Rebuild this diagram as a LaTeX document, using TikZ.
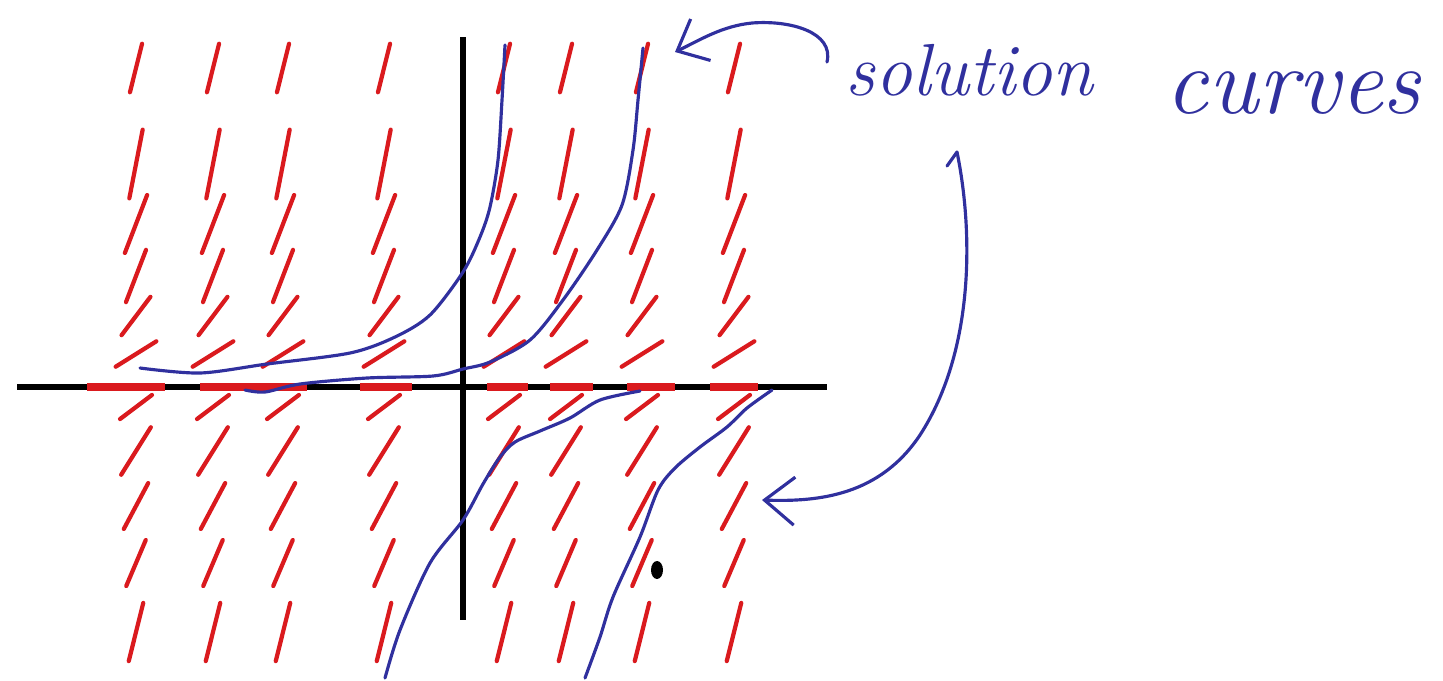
\documentclass[tikz,border=0pt]{standalone}
\usetikzlibrary{arrows.meta}
\definecolor{penred}{RGB}{218,26,30}
\definecolor{penblue}{RGB}{48,48,158}
\begin{document}
\begin{tikzpicture}[x=0.1mm, y=-0.1mm,
  slope/.style={penred, line width=1.2pt, line cap=round},
  flat/.style={penred, line width=2.4pt},
  axis/.style={black, line width=1.7pt},
  pen/.style={penblue, line width=0.9pt, line cap=round, line join=round},
  hand/.style={penblue, inner sep=0pt, anchor=base west}]
  \useasboundingbox (0,0) rectangle (1443,680);
  % 坐标轴
  \draw[axis] (17,387) -- (827,387);
  \draw[axis] (463,37) -- (463,620);
  % 斜率场 (行: y/角度/半长)
  \foreach \yc/\a/\h in {68/76/25, 164/79/35, 224/69/31, 276/69/28, 316/53/24, 354/32/24,
                         407/37/20, 451/58/28, 506/62/26, 563/67/25, 632/76/30} {
    \foreach \xc in {136,213,283,384,504,566,642,734}
      \draw[slope] (\xc,\yc) +(180-\a:\h) -- +(-\a:\h);}
  % y=0 上的水平线段
  \foreach \xa/\xb in {87/165, 200/262, 258/307, 360/412, 487/528, 550/593, 627/675, 710/758}
    \draw[flat] (\xa,387) -- (\xb,387);
  % 解曲线
  \draw[pen] plot[smooth] coordinates {(140,368) (200,373) (267,364) (350,353) (395,337)
    (430,315) (463,272) (480,237) (490,207) (498,160) (502,100) (505,45)};
  \draw[pen] plot[smooth] coordinates {(245,390) (265,392) (300,384) (367,378) (433,376)
    (463,369) (490,362) (530,340) (563,300) (597,250) (622,205) (633,150) (638,100) (643,48)};
  \draw[pen] plot[smooth] coordinates {(385,678) (400,630) (430,563) (463,520) (483,484)
    (500,457) (515,442) (540,431) (570,418) (600,400) (640,391)};
  \draw[pen] plot[smooth] coordinates {(585,678) (600,637) (613,597) (640,537) (658,490)
    (675,468) (700,447) (727,427) (747,408) (772,390)};
  \fill (657,570) ellipse [x radius=0.6mm, y radius=0.9mm];
  % 标注
  \node[hand, font=\fontsize{21}{25}\selectfont\itshape] (sol) at (845,95) {solution};
  \node[hand, font=\fontsize{27}{31}\selectfont\itshape] (cur) at (1165,113) {curves};
  \coordinate (tailA) at (827,62);
  \coordinate (tipA) at (675,52);
  \coordinate (tailB) at (957,152);
  \coordinate (tipB) at (762,500);
  \draw[pen, -{Straight Barb[length=2.6mm, width=4.6mm]}] (tailA)
    .. controls (834,32) and (790,20) .. (752,23) .. controls (722,26) and (700,40) .. (tipA);
  \draw[pen] (947,166) -- (tailB);
  \draw[pen, -{Straight Barb[length=3mm, width=4.8mm]}] (tailB)
    .. controls (973,230) and (975,350) .. (920,435) .. controls (880,495) and (820,502) .. (tipB);
\end{tikzpicture}
\end{document}
